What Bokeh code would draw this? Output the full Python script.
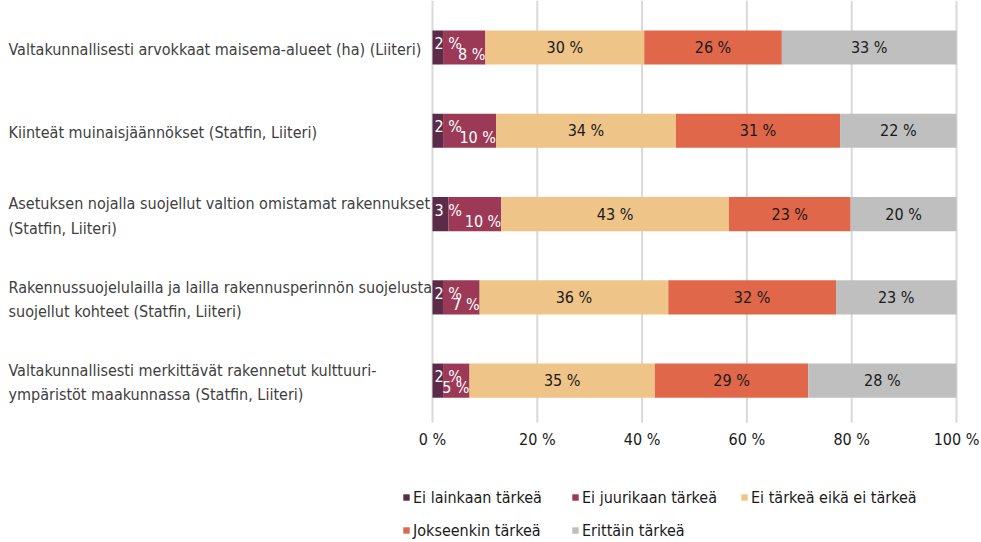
from bokeh.plotting import figure
from bokeh.models import ColumnDataSource, Range1d, Legend, LegendItem
from bokeh.core.properties import value
from bokeh.embed import file_html
from bokeh.resources import INLINE

categories = [
    "Valtakunnallisesti arvokkaat maisema-alueet (ha) (Liiteri)",
    "Kiinteät muinaisjäännökset (Statfin, Liiteri)",
    "Asetuksen nojalla suojellut valtion omistamat rakennukset\n(Statfin, Liiteri)",
    "Rakennussuojelulailla ja lailla rakennusperinnön suojelusta\nsuojellut kohteet (Statfin, Liiteri)",
    "Valtakunnallisesti merkittävät rakennetut kulttuuri-\nympäristöt maakunnassa (Statfin, Liiteri)",
]
series_names = ["Ei lainkaan tärkeä", "Ei juurikaan tärkeä", "Ei tärkeä eikä ei tärkeä",
                "Jokseenkin tärkeä", "Erittäin tärkeä"]
ei_lainkaan = [2, 2, 3, 2, 2]
ei_juurikaan = [8, 10, 10, 7, 5]
ei_eika = [30, 34, 43, 36, 35]
jokseenkin = [26, 31, 23, 32, 29]
erittain = [33, 22, 20, 23, 28]
tick_values = [0, 0.2, 0.4, 0.6, 0.8, 1.0]
tick_labels = ["0 %", "20 %", "40 %", "60 %", "80 %", "100 %"]

colors = ["#5b2b47", "#9c3956", "#efc489", "#e06749", "#bfbfbf"]
label_colors = ["white", "white", "#1a1a1a", "#1a1a1a", "#1a1a1a"]
FONT = "'Liberation Sans Narrow', 'DejaVu Sans Condensed', 'Roboto Condensed', 'Open Sans', sans-serif"

series = [ei_lainkaan, ei_juurikaan, ei_eika, jokseenkin, erittain]
n = len(categories)
totals = [sum(s[i] for s in series) for i in range(n)]
ys = list(range(n))

X0, X1 = -0.8244, 1.0458
Y_TOP, Y_AXIS, Y_BOTTOM = -0.564, 4.504, 5.943

p = figure(width=980, height=542, output_backend="svg", toolbar_location=None,
           x_range=Range1d(X0, X1), y_range=Range1d(Y_BOTTOM, Y_TOP),
           min_border=0)
p.outline_line_color = None
p.background_fill_color = "white"
p.border_fill_color = "white"
p.grid.visible = False
p.axis.visible = False

# vertical grid lines at the tick values
p.segment(x0=tick_values, x1=tick_values, y0=[Y_TOP] * len(tick_values),
          y1=[Y_AXIS] * len(tick_values), line_color="#d9d9d9", line_width=2)
# x tick labels
p.text(x=tick_values, y=[Y_AXIS] * len(tick_values), text=tick_labels,
       text_align="center", text_baseline="top", y_offset=7,
       text_font=value(FONT), text_font_size="16px", text_color="#1a1a1a")

renderers = []
sources = []
left = [0.0] * n
for k, s in enumerate(series):
    share = [s[i] / totals[i] for i in range(n)]
    right = [left[i] + share[i] for i in range(n)]
    src = ColumnDataSource(dict(y=ys, left=left, right=right,
                                mid=[(l + r) / 2 for l, r in zip(left, right)],
                                lab=[f"{v} %" for v in s]))
    r = p.hbar(y="y", left="left", right="right", height=0.41, source=src,
               fill_color=colors[k], line_color=None)
    renderers.append(r)
    sources.append(src)
    left = right

for k, src in enumerate(sources):
    if k == 0:
        p.text(x="left", y="y", text="lab", source=src, text_align="left",
               text_baseline="middle", x_offset=2, y_offset=-4,
               text_font=value(FONT), text_font_size="16px", text_color=label_colors[k])
    elif k == 1:
        p.text(x="right", y="y", text="lab", source=src, text_align="right",
               text_baseline="middle", x_offset=0, y_offset=7,
               text_font=value(FONT), text_font_size="16px", text_color=label_colors[k])
    else:
        p.text(x="mid", y="y", text="lab", source=src, text_align="center",
               text_baseline="middle", text_font=value(FONT),
               text_font_size="16px", text_color=label_colors[k])

cat_src = ColumnDataSource(dict(x=[X0] * n, y=ys, t=categories))
p.text(x="x", y="y", text="t", source=cat_src, text_align="left", text_baseline="middle",
       x_offset=8, y_offset=2,
       text_font=value(FONT), text_font_size="16px", text_color="#404040",
       text_line_height=1.3)

legend = Legend(items=[LegendItem(label=nm, renderers=[r]) for nm, r in zip(series_names, renderers)],
                location=(402, 2), ncols=3, orientation="horizontal",
                glyph_width=8, glyph_height=8, label_standoff=3, spacing=13,
                label_width=145, label_height=20, padding=0, margin=0,
                border_line_color=None, background_fill_alpha=0,
                label_text_font=FONT, label_text_font_size="16px",
                label_text_color="#1a1a1a")
p.add_layout(legend, "center")

open("out.html", "w").write(file_html(p, INLINE))
